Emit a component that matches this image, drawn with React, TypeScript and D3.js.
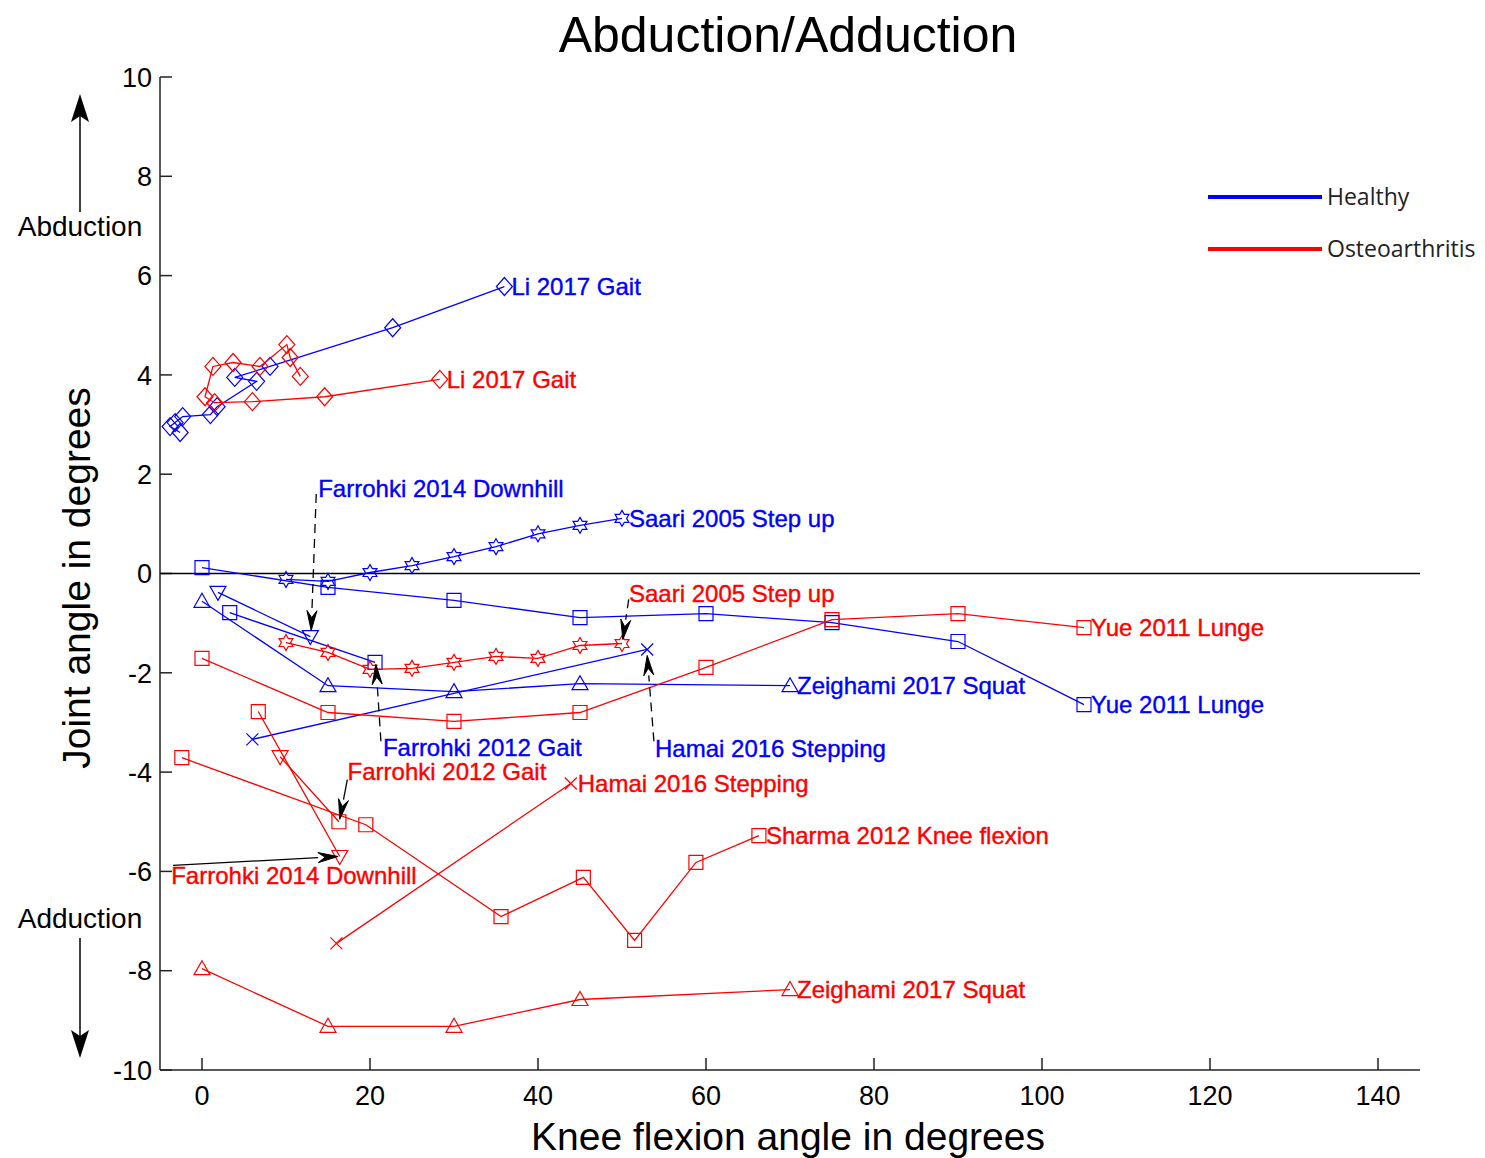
import * as d3 from "d3";

type Pt = [number, number];

const BLUE = "#0000ff";
const RED = "#ff0000";

// x ticks / y ticks
const xTicks = [0, 20, 40, 60, 80, 100, 120, 140];
const yTicks = [-10, -8, -6, -4, -2, 0, 2, 4, 6, 8, 10];

// Healthy series
const liHealthy: Pt[] = [
  [-2.6, 2.84], [-3.8, 2.96], [-3.2, 3.04], [-2.3, 3.16], [1.0, 3.2], [1.8, 3.36],
  [6.5, 3.87], [3.9, 3.95], [8.1, 4.17], [22.7, 4.95], [36, 5.78],
];
const saariX = [10, 15, 20, 25, 30, 35, 40, 45, 50];
const saariHealthy = [-0.12, -0.16, 0.02, 0.16, 0.34, 0.54, 0.8, 0.97, 1.11];
const yueX = [0, 15, 30, 45, 60, 75, 90, 105];
const yueHealthy = [0.12, -0.28, -0.54, -0.89, -0.81, -0.99, -1.37, -2.64];
const zeighamiX = [0, 15, 30, 45, 70];
const zeighamiHealthy = [-0.56, -2.26, -2.38, -2.22, -2.26];
const farrohki2012Healthy: Pt[] = [[3.3, -0.79], [20.6, -1.79]];
const farrohki2014Healthy: Pt[] = [[1.9, -0.38], [12.9, -1.27]];
const hamaiHealthy: Pt[] = [[6.0, -3.34], [53, -1.53]];

// Osteoarthritis series
const liOA: Pt[] = [
  [11.7, 3.97], [10.5, 4.35], [10.1, 4.61], [6.9, 4.17], [3.7, 4.25], [1.3, 4.17],
  [0.36, 3.56], [1.5, 3.44], [6.0, 3.46], [14.6, 3.56], [28.3, 3.91],
];
const saariOA = [-1.39, -1.59, -1.93, -1.91, -1.79, -1.67, -1.71, -1.45, -1.41];
const yueOA = [-1.71, -2.8, -2.98, -2.8, -1.89, -0.93, -0.81, -1.09];
const zeighamiOA = [-7.96, -9.12, -9.12, -8.58, -8.38];
const farrohki2012OA: Pt[] = [[9.3, -3.69], [16.3, -5.0]];
const farrohki2014OA: Pt[] = [[6.7, -2.78], [16.4, -5.7]];
const hamaiOA: Pt[] = [[16, -7.45], [43.9, -4.23]];
const sharmaOA: Pt[] = [
  [-2.4, -3.71], [19.5, -5.06], [35.6, -6.91], [45.4, -6.12], [51.5, -7.39], [58.8, -5.82], [66.3, -5.28],
];

const zip = (xs: number[], ys: number[]): Pt[] => xs.map((x, i) => [x, ys[i]]);

type Marker = "square" | "diamond" | "up" | "down" | "x" | "hex";
interface Series { color: string; markers: Marker | Marker[]; points: Pt[] }

const series: Series[] = [
  { color: BLUE, markers: "diamond", points: liHealthy },
  { color: BLUE, markers: "hex", points: zip(saariX, saariHealthy) },
  { color: BLUE, markers: "square", points: zip(yueX, yueHealthy) },
  { color: BLUE, markers: "up", points: zip(zeighamiX, zeighamiHealthy) },
  { color: BLUE, markers: "square", points: farrohki2012Healthy },
  { color: BLUE, markers: "down", points: farrohki2014Healthy },
  { color: BLUE, markers: "x", points: hamaiHealthy },
  { color: RED, markers: "diamond", points: liOA },
  { color: RED, markers: "hex", points: zip(saariX, saariOA) },
  { color: RED, markers: "square", points: zip(yueX, yueOA) },
  { color: RED, markers: "up", points: zip(zeighamiX, zeighamiOA) },
  { color: RED, markers: ["down", "square"], points: farrohki2012OA },
  { color: RED, markers: ["square", "down"], points: farrohki2014OA },
  { color: RED, markers: "x", points: hamaiOA },
  { color: RED, markers: "square", points: sharmaOA },
];

const labels: { text: string; color: string; at: Pt }[] = [
  { text: "Li 2017 Gait", color: BLUE, at: [36, 5.78] },
  { text: "Saari 2005 Step up", color: BLUE, at: [50, 1.11] },
  { text: "Yue 2011 Lunge", color: BLUE, at: [105, -2.64] },
  { text: "Zeighami 2017 Squat", color: BLUE, at: [70, -2.26] },
  { text: "Farrohki 2014 Downhill", color: BLUE, at: [13.0, 1.71] },
  { text: "Farrohki 2012 Gait", color: BLUE, at: [20.7, -3.5] },
  { text: "Hamai 2016 Stepping", color: BLUE, at: [53.1, -3.52] },
  { text: "Li 2017 Gait", color: RED, at: [28.3, 3.91] },
  { text: "Saari 2005 Step up", color: RED, at: [50.0, -0.4] },
  { text: "Yue 2011 Lunge", color: RED, at: [105, -1.09] },
  { text: "Hamai 2016 Stepping", color: RED, at: [43.9, -4.23] },
  { text: "Sharma 2012 Knee flexion", color: RED, at: [66.3, -5.28] },
  { text: "Farrohki 2012 Gait", color: RED, at: [16.5, -3.99] },
  { text: "Farrohki 2014 Downhill", color: RED, at: [-4.5, -6.08] },
  { text: "Zeighami 2017 Squat", color: RED, at: [70, -8.38] },
];

// annotation arrows: from -> to, dashed or not
const arrows: { from: Pt; to: Pt; dashed: boolean }[] = [
  { from: [13.6, 1.6], to: [13.0, -1.15], dashed: true },
  { from: [21.3, -3.38], to: [20.7, -1.83], dashed: true },
  { from: [50.8, -0.52], to: [50.1, -1.33], dashed: true },
  { from: [53.8, -3.38], to: [53.0, -1.65], dashed: true },
  { from: [17.3, -4.15], to: [16.4, -4.95], dashed: false },
  { from: [-3.45, -5.88], to: [16.2, -5.7], dashed: false },
];

const legend = [
  { name: "Healthy", color: BLUE },
  { name: "Osteoarthritis", color: RED },
];

const FONT = "'Liberation Sans', Arial, sans-serif";

const hexPath = (() => {
  const pts: string[] = [];
  for (let i = 0; i < 12; i++) {
    const r = i % 2 === 0 ? 8 : 4.6;
    const a = (Math.PI / 6) * i - Math.PI / 2;
    pts.push(`${(r * Math.cos(a)).toFixed(2)},${(r * Math.sin(a)).toFixed(2)}`);
  }
  return "M" + pts.join("L") + "Z";
})();

const markerPath = (m: Marker) => {
  switch (m) {
    case "square": return "M-7,-7h14v14h-14z";
    case "diamond": return "M0,-9L8,0L0,9L-8,0Z";
    case "up": return "M0,-8L8,6L-8,6Z";
    case "down": return "M0,8L8,-6L-8,-6Z";
    case "x": return "M-6,-6L6,6M-6,6L6,-6";
    default: return hexPath;
  }
};

export default function App() {
  const width = 1485;
  const height = 1158;
  const margin = { top: 77, right: 65, bottom: 88, left: 160 };

  const x = d3.scaleLinear().domain([-5, 145]).range([margin.left, width - margin.right]);
  const y = d3.scaleLinear().domain([-10, 10]).range([height - margin.bottom, margin.top]);

  const line = d3.line<Pt>().x((d) => x(d[0])).y((d) => y(d[1]));

  const x0 = margin.left;
  const x1 = width - margin.right;
  const yb = height - margin.bottom;

  const arrowHead = (from: Pt, to: Pt) => {
    const fx = x(from[0]), fy = y(from[1]);
    const tx = x(to[0]), ty = y(to[1]);
    const ang = Math.atan2(ty - fy, tx - fx);
    const L = 20, W = 5;
    const bx = tx - L * Math.cos(ang), by = ty - L * Math.sin(ang);
    const px = -Math.sin(ang) * W, py = Math.cos(ang) * W;
    return {
      shaft: `M${fx},${fy}L${bx},${by}`,
      head: `M${tx},${ty}L${bx + px},${by + py}L${bx + 0.35 * L * Math.cos(ang)},${by + 0.35 * L * Math.sin(ang)}L${bx - px},${by - py}Z`,
    };
  };

  return (
    <svg width={width} height={height} style={{ position: "absolute", left: 0, top: 0, background: "#fff" }}>
      {/* title */}
      <text x={788} y={52} textAnchor="middle" fontFamily={FONT} fontSize={50}>Abduction/Adduction</text>

      {/* axes */}
      <line x1={x0} y1={margin.top} x2={x0} y2={yb} stroke="#222" strokeWidth={1.5} />
      <line x1={x0} y1={yb} x2={x1} y2={yb} stroke="#222" strokeWidth={1.5} />
      {yTicks.map((t) => (
        <g key={"y" + t}>
          <line x1={x0} x2={x0 + 12} y1={y(t)} y2={y(t)} stroke="#222" strokeWidth={1.5} />
          <text x={x0 - 8} y={y(t)} dy="0.36em" textAnchor="end" fontFamily={FONT} fontSize={27}>{t}</text>
        </g>
      ))}
      {xTicks.map((t) => (
        <g key={"x" + t}>
          <line x1={x(t)} x2={x(t)} y1={yb} y2={yb - 12} stroke="#222" strokeWidth={1.5} />
          <text x={x(t)} y={yb + 35} textAnchor="middle" fontFamily={FONT} fontSize={27}>{t}</text>
        </g>
      ))}
      <line x1={x0} x2={x1} y1={y(0)} y2={y(0)} stroke="#000" strokeWidth={1.3} />

      <text x={788} y={1150} textAnchor="middle" fontFamily={FONT} fontSize={39}>Knee flexion angle in degrees</text>
      <text transform={`translate(90,578) rotate(-90)`} textAnchor="middle" fontFamily={FONT} fontSize={39}>Joint angle in degrees</text>

      {/* abduction / adduction hints */}
      <text x={80} y={236} textAnchor="middle" fontFamily={FONT} fontSize={28}>Abduction</text>
      <line x1={80} x2={80} y1={212} y2={112} stroke="#000" strokeWidth={1.5} />
      <path d="M80,94L71,122L80,116L89,122Z" fill="#000" />
      <text x={80} y={928} textAnchor="middle" fontFamily={FONT} fontSize={28}>Adduction</text>
      <line x1={80} x2={80} y1={938} y2={1040} stroke="#000" strokeWidth={1.5} />
      <path d="M80,1058L71,1030L80,1036L89,1030Z" fill="#000" />

      {/* series */}
      {series.map((s, i) => (
        <g key={"s" + i}>
          <path d={line(s.points) ?? ""} fill="none" stroke={s.color} strokeWidth={1.3} />
          {s.points.map((p, j) => {
            const m = Array.isArray(s.markers) ? s.markers[j] : s.markers;
            return (
              <path key={j} d={markerPath(m)} transform={`translate(${x(p[0])},${y(p[1])})`}
                fill="none" stroke={s.color} strokeWidth={1.2} />
            );
          })}
        </g>
      ))}

      {/* annotation arrows */}
      {arrows.map((a, i) => {
        const h = arrowHead(a.from, a.to);
        return (
          <g key={"a" + i}>
            <path d={h.shaft} stroke="#000" strokeWidth={1.3} fill="none" strokeDasharray={a.dashed ? "9,6" : undefined} />
            <path d={h.head} fill="#000" stroke="#000" strokeWidth={1} />
          </g>
        );
      })}

      {/* series labels */}
      {labels.map((l, i) => (
        <text key={"l" + i} x={x(l.at[0]) + 7} y={y(l.at[1])} dy="0.36em" fill={l.color}
          stroke={l.color} strokeWidth={0.4} fontFamily={FONT} fontSize={24}>{l.text}</text>
      ))}

      {/* legend */}
      {legend.map((d, i) => (
        <g key={d.name} transform={`translate(1208,${197 + i * 52})`}>
          <line x1={0} x2={114} y1={0} y2={0} stroke={d.color} strokeWidth={4} />
          <text x={119} y={0} dy="0.36em" fontFamily="'Open Sans', sans-serif" fontSize={23} fill="#222">{d.name}</text>
        </g>
      ))}
    </svg>
  );
}
